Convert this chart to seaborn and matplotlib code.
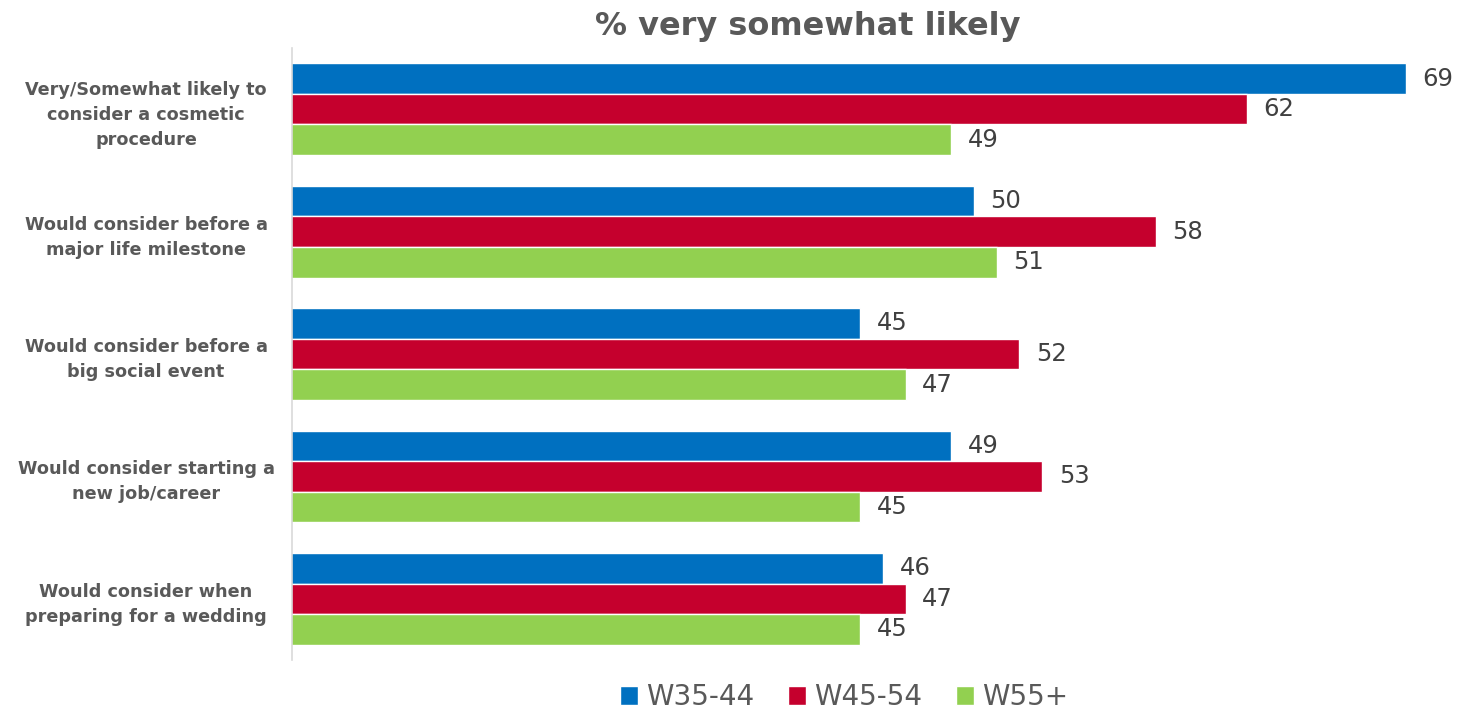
import matplotlib
matplotlib.use("Agg")
import matplotlib.pyplot as plt
import seaborn as sns
import pandas as pd

categories = [
    "Very/Somewhat likely to\nconsider a cosmetic\nprocedure",
    "Would consider before a\nmajor life milestone",
    "Would consider before a\nbig social event",
    "Would consider starting a\nnew job/career",
    "Would consider when\npreparing for a wedding",
]
series_names = ["W35-44", "W45-54", "W55+"]
w35_44 = [69, 50, 45, 49, 46]
w45_54 = [62, 58, 52, 53, 47]
w55_plus = [49, 51, 47, 45, 45]
colors = ["#0070C0", "#C5002D", "#92D050"]
title = "% very somewhat likely"

rows = []
for name, vals in zip(series_names, [w35_44, w45_54, w55_plus]):
    for c, v in zip(categories, vals):
        rows.append({"category": c, "group": name, "value": v})
df = pd.DataFrame(rows)

sns.set_style("white")
plt.rcParams["font.family"] = ["DejaVu Sans"]

fig = plt.figure(figsize=(14.58, 7.12), dpi=100)
ax = fig.add_axes([0.2003, 0.0730, 0.7997, 0.8596])

sns.barplot(data=df, y="category", x="value", hue="group", order=categories,
            hue_order=series_names, palette=colors, orient="h", width=0.75,
            saturation=1, ax=ax, legend=True)

ax.set_xlim(20, 71.3)
ax.set_ylim(4.5, -0.5)
ax.set_xlabel("")
ax.set_ylabel("")
ax.set_xticks([])
for s in ["top", "right", "bottom"]:
    ax.spines[s].set_visible(False)
ax.spines["left"].set_color("#D9D9D9")
ax.spines["left"].set_linewidth(1.2)

ax.set_yticks(range(len(categories)))
ax.set_yticklabels(categories, fontsize=12.7, fontweight="bold", color="#595959",
                   ha="center", linespacing=1.5)
ax.tick_params(axis="y", length=0, pad=(292 - 146) * 0.72)

for cont in ax.containers:
    ax.bar_label(cont, fmt="%d", padding=12, fontsize=17.5, color="#404040", clip_on=False)

ax.legend(loc="center", bbox_to_anchor=(844 / 1458, 1 - 697 / 712),
          bbox_transform=fig.transFigure, ncol=3, frameon=False, fontsize=20,
          handlelength=0.65, handleheight=0.65, handletextpad=0.3,
          columnspacing=1.2, labelcolor="#595959")

fig.text(808 / 1458, 1 - 27 / 712, title, ha="center", va="center", fontsize=23,
         fontweight="bold", color="#595959")

fig.savefig("out.png", dpi=100, facecolor="white")
